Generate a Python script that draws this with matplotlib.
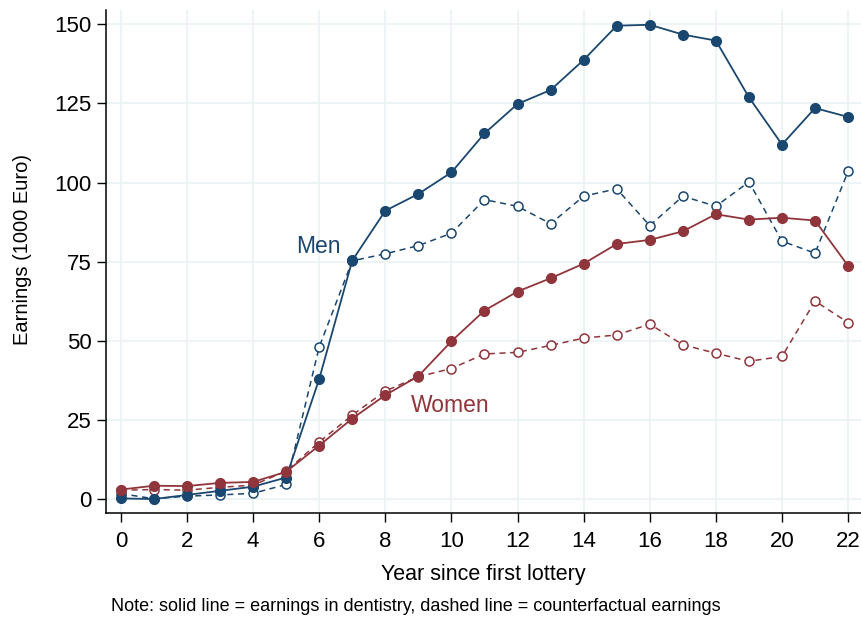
import matplotlib
matplotlib.use('Agg')
import matplotlib.pyplot as plt

plt.rcParams['font.family'] = ['Liberation Sans', 'DejaVu Sans']

# Years since first lottery
years = list(range(23))

# Earnings (1000 Euro)
men_actual = [0.3, 0.1, 1.4, 2.7, 4.0, 6.9, 38.0, 75.4, 91.1, 96.4, 103.2, 115.5,
              124.8, 129.2, 138.7, 149.5, 149.8, 146.7, 144.8, 126.9, 112.0, 123.5, 120.7]
men_counter = [1.8, 0.2, 1.0, 1.4, 1.9, 4.7, 48.1, 75.3, 77.5, 80.1, 84.0, 94.6,
               92.5, 87.0, 95.7, 98.0, 86.4, 95.7, 92.5, 100.2, 81.5, 77.7, 103.5]
women_actual = [3.1, 4.3, 4.2, 5.2, 5.5, 8.7, 17.0, 25.5, 32.9, 38.9, 49.9, 59.6,
                65.6, 69.8, 74.4, 80.6, 81.9, 84.6, 90.0, 88.3, 88.9, 88.0, 73.7]
women_counter = [2.9, 3.1, 2.9, 3.8, 4.5, 8.9, 18.1, 26.6, 34.2, 38.7, 41.3, 45.9,
                 46.4, 48.6, 50.9, 51.9, 55.3, 48.8, 46.1, 43.6, 45.1, 62.6, 55.8]

x_ticks = list(range(0, 23, 2))
y_ticks = [0, 25, 50, 75, 100, 125, 150]

navy = '#1a476f'
maroon = '#90353b'

fig = plt.figure(figsize=(8.61, 6.2), dpi=100)
ax = fig.add_axes([0.1231, 0.1726, 0.8769, 0.812])

# counterfactual (dashed, hollow markers)
ax.plot(years, men_counter, color=navy, ls=(0, (4, 3)), lw=1.1, marker='o',
        ms=6.5, mfc='white', mec=navy, mew=1.1, zorder=3)
ax.plot(years, women_counter, color=maroon, ls=(0, (4, 3)), lw=1.1, marker='o',
        ms=6.5, mfc='white', mec=maroon, mew=1.1, zorder=3)
# actual (solid, filled markers)
ax.plot(years, men_actual, color=navy, lw=1.3, marker='o', ms=7, zorder=4)
ax.plot(years, women_actual, color=maroon, lw=1.3, marker='o', ms=7, zorder=4)

ax.text(5.98, 79.8, 'Men', color=navy, fontsize=16.5, ha='center', va='center')
ax.text(9.97, 29.7, 'Women', color=maroon, fontsize=16.5, ha='center', va='center')

ax.set_xlim(-0.45, 22.39)
ax.set_ylim(-4.3, 154.6)
ax.set_xticks(x_ticks)
ax.set_yticks(y_ticks)
ax.tick_params(axis='both', labelsize=16, length=6.5, width=1, direction='out', color='black')
ax.tick_params(axis='x', pad=6.5)
ax.tick_params(axis='y', pad=4)
ax.grid(True, color='#eaf2f3', lw=1.2)
ax.set_axisbelow(True)
for side in ['top', 'right']:
    ax.spines[side].set_visible(False)
for side in ['left', 'bottom']:
    ax.spines[side].set_linewidth(1.1)

ax.set_xlabel('Year since first lottery', fontsize=15.5, va='center')
ax.xaxis.set_label_coords(0.5, -0.122)
ax.set_ylabel('Earnings (1000 Euro)', fontsize=14.5, va='center')
ax.yaxis.set_label_coords(-0.11, 0.523)

fig.text(0.129, 0.008, 'Note: solid line = earnings in dentistry, dashed line = counterfactual earnings',
         fontsize=13, ha='left', va='bottom')

fig.savefig('out.png', dpi=100)
